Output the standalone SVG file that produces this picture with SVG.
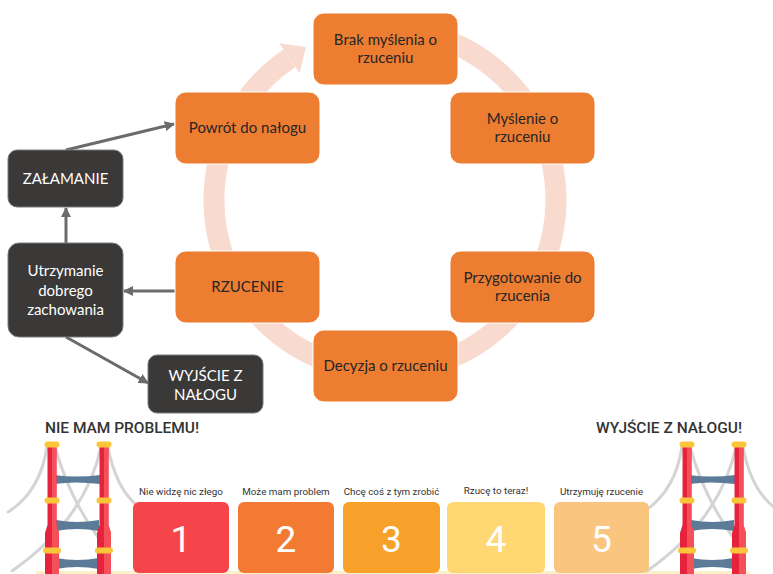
<svg xmlns="http://www.w3.org/2000/svg" xmlns:xlink="http://www.w3.org/1999/xlink" width="773" height="574" viewBox="0 0 773 574">
  <style>
    .stage rect { fill: #ED7D31; stroke: #ffffff; stroke-width: 1; }
    .stage text { font-family: Lato, "Open Sans", "Liberation Sans", sans-serif; font-size: 15px; fill: #262626; text-anchor: middle; }
    .side rect { fill: #3B3838; stroke: #7a7a7a; stroke-width: 1; }
    .side text { font-family: Lato, "Open Sans", "Liberation Sans", sans-serif; font-size: 15px; fill: #ffffff; text-anchor: middle; }
    .conn line { stroke: #6b6b6b; stroke-width: 3; marker-end: url(#head); }
    .title { font-family: Roboto, "DejaVu Sans", sans-serif; font-size: 15.5px; font-weight: 500; fill: #333333; }
    .step text.cap { font-family: Roboto, "DejaVu Sans", sans-serif; font-size: 9.8px; fill: #333333; text-anchor: middle; }
    .step text.num { font-family: Roboto, "DejaVu Sans", sans-serif; font-size: 37px; fill: #ffffff; text-anchor: middle; }
    .cable { fill: none; stroke: #d4d4d4; stroke-width: 3; stroke-linecap: round; }
    .beam { fill: #5B7B98; }
    .band { fill: #FBC53A; }
    .tower { fill: #E5233C; }
    .towerLight { fill: #F5505A; }
  </style>
  <defs>
    <marker id="head" viewBox="0 0 10 10" refX="9" refY="5" markerWidth="3.4" markerHeight="3.4" orient="auto" markerUnits="strokeWidth">
      <path d="M0,0 L10,5 L0,10 z" fill="#6b6b6b"/>
    </marker>
    <!-- suspension bridge tower pair, drawn with its left tower at x=45 -->
    <g id="bridge">
      <path class="cable" d="M47,447 Q40,492 8,512"/>
      <path class="cable" d="M55,447 Q70,500 100,540"/>
      <path class="cable" d="M101,447 Q85,520 12,571"/>
      <path class="cable" d="M108,447 Q116,490 140,508"/>
      <!-- cross beams -->
      <path class="beam" d="M54,475 Q76,478 100,475 L100,484 Q76,481 54,484 z"/>
      <path class="beam" d="M56,520 Q77,524 99,520 L99,531 Q77,527 56,531 z"/>
      <path class="beam" d="M56,558 Q77,562 99,558 L99,569 Q77,565 56,569 z"/>
      <!-- left tower -->
      <path class="tower" d="M47.5,446 L56.5,446 L56.5,525 L59,533 L59,574 L45,574 L45,533 L47.5,525 z"/>
      <path class="towerLight" d="M52,446 L56.5,446 L56.5,525 L59,533 L59,574 L52,574 z"/>
      <!-- right tower -->
      <path class="tower" d="M99.5,446 L108.5,446 L108.5,525 L111,533 L111,574 L97,574 L97,533 L99.5,525 z"/>
      <path class="towerLight" d="M104,446 L108.5,446 L108.5,525 L111,533 L111,574 L104,574 z"/>
      <!-- yellow collars -->
      <rect class="band" x="44.5" y="441.5" width="15" height="6" rx="3"/>
      <rect class="band" x="96.5" y="441.5" width="15" height="6" rx="3"/>
      <rect class="band" x="44.5" y="497.5" width="15" height="6" rx="3"/>
      <rect class="band" x="96.5" y="497.5" width="15" height="6" rx="3"/>
      <rect class="band" x="43" y="547.5" width="18" height="6" rx="3"/>
      <rect class="band" x="95" y="547.5" width="18" height="6" rx="3"/>
    </g>
  </defs>

  <rect width="773" height="574" fill="#ffffff"/>

  <!-- cycle ring behind the stages -->
  <g id="cycle-ring">
    <path d="M414.7,31.6 A171,171 0 1 1 289.4,58.2" fill="none" stroke="#F9DACF" stroke-width="21"/>
    <path d="M279.3,43.3 L306,47 L299.5,73.1 z" fill="#F9DACF"/>
  </g>

  <!-- connectors -->
  <g id="connectors" class="conn">
    <line x1="66" y1="150" x2="174" y2="124"/>
    <line x1="66" y1="243" x2="66" y2="208"/>
    <line x1="175" y1="291" x2="124" y2="291"/>
    <line x1="66" y1="337" x2="148" y2="383"/>
  </g>

  <!-- cycle stages -->
  <g id="brak" class="stage">
    <rect x="313" y="13" width="145" height="72" rx="11"/>
    <text x="385.5" y="45">Brak myślenia o</text>
    <text x="385.5" y="63">rzuceniu</text>
  </g>
  <g id="myslenie" class="stage">
    <rect x="450" y="92" width="145" height="72" rx="11"/>
    <text x="522.5" y="124">Myślenie o</text>
    <text x="522.5" y="142">rzuceniu</text>
  </g>
  <g id="przygotowanie" class="stage">
    <rect x="450" y="251" width="145" height="72" rx="11"/>
    <text x="522.5" y="283">Przygotowanie do</text>
    <text x="522.5" y="301">rzucenia</text>
  </g>
  <g id="decyzja" class="stage">
    <rect x="313" y="330" width="145" height="72" rx="11"/>
    <text x="385.5" y="371">Decyzja o rzuceniu</text>
  </g>
  <g id="rzucenie" class="stage">
    <rect x="175" y="251" width="145" height="72" rx="11"/>
    <text x="247.5" y="292">RZUCENIE</text>
  </g>
  <g id="powrot" class="stage">
    <rect x="175" y="92" width="145" height="72" rx="11"/>
    <text x="247.5" y="133">Powrót do nałogu</text>
  </g>

  <!-- side outcomes -->
  <g id="zalamanie" class="side">
    <rect x="8" y="150" width="115" height="57" rx="9"/>
    <text x="65.5" y="184">ZAŁAMANIE</text>
  </g>
  <g id="utrzymanie" class="side">
    <rect x="8" y="243" width="115" height="94" rx="11"/>
    <text x="65.5" y="276">Utrzymanie</text>
    <text x="65.5" y="295.5">dobrego</text>
    <text x="65.5" y="315">zachowania</text>
  </g>
  <g id="wyjscie" class="side">
    <rect x="148" y="355" width="115" height="58" rx="9"/>
    <text x="205.5" y="381">WYJŚCIE Z</text>
    <text x="205.5" y="400">NAŁOGU</text>
  </g>

  <!-- scale of readiness -->
  <text class="title" x="45" y="433" textLength="154" lengthAdjust="spacing">NIE MAM PROBLEMU!</text>
  <text class="title" x="596" y="433" textLength="146" lengthAdjust="spacing">WYJŚCIE Z NAŁOGU!</text>

  <rect x="36" y="571" width="714" height="3" fill="#FDF1C7"/>
  <use xlink:href="#bridge"/>
  <use xlink:href="#bridge" transform="translate(635,0)"/>

  <g id="step1" class="step">
    <rect x="133" y="502" width="96" height="71" rx="6" fill="#F5454B"/>
    <text class="cap" x="181" y="495">Nie widzę nic złego</text>
    <text class="num" x="181" y="552">1</text>
  </g>
  <g id="step2" class="step">
    <rect x="238" y="502" width="96" height="71" rx="6" fill="#F37A33"/>
    <text class="cap" x="286" y="495">Może mam problem</text>
    <text class="num" x="286" y="552">2</text>
  </g>
  <g id="step3" class="step">
    <rect x="343" y="502" width="97" height="71" rx="6" fill="#F8A12A"/>
    <text class="cap" x="391.5" y="495">Chcę coś z tym zrobić</text>
    <text class="num" x="391.5" y="552">3</text>
  </g>
  <g id="step4" class="step">
    <rect x="447" y="502" width="98" height="71" rx="6" fill="#FFD874"/>
    <text class="cap" x="496" y="494">Rzucę to teraz!</text>
    <text class="num" x="496" y="552">4</text>
  </g>
  <g id="step5" class="step">
    <rect x="554" y="502" width="95" height="71" rx="6" fill="#FAC57E"/>
    <text class="cap" x="601.5" y="495">Utrzymuję rzucenie</text>
    <text class="num" x="601.5" y="552">5</text>
  </g>
</svg>
